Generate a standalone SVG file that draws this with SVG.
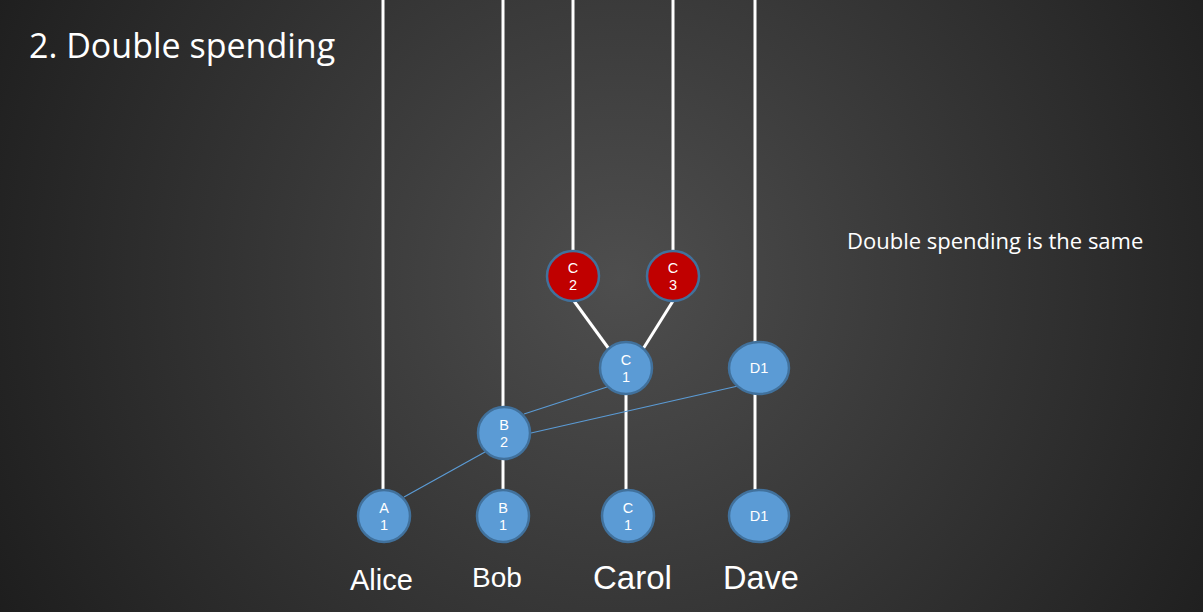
<svg xmlns="http://www.w3.org/2000/svg" width="1203" height="612" viewBox="0 0 1203 612">
<defs>
<radialGradient id="bg" cx="620" cy="280" r="800" gradientUnits="userSpaceOnUse">
<stop offset="0" stop-color="#4e4e4e"/>
<stop offset="0.45" stop-color="#353535"/>
<stop offset="1" stop-color="#171717"/>
</radialGradient>
</defs>
<style>
.life{stroke:#ffffff;stroke-width:3;fill:none}
.link{stroke:#5b9bd5;stroke-width:1.2;fill:none}
.blue{fill:#5b9bd5;stroke:#41719c;stroke-width:2.5}
.red{fill:#c00000;stroke:#41719c;stroke-width:2.5}
.nt{font-family:"Liberation Sans",Arial,sans-serif;font-size:14.5px;fill:#ffffff;text-anchor:middle}
.name{font-family:"Liberation Sans",Arial,sans-serif;fill:#ffffff}
.cal{font-family:"Open Sans","Noto Sans",sans-serif;fill:#ffffff}
</style>
<rect width="1203" height="612" fill="url(#bg)"/>
<text class="cal" x="29" y="58" font-size="34">2. Double spending</text>
<text class="cal" x="847" y="249" font-size="22">Double spending is the same</text>
<g id="connectors">
<line class="life" x1="383" y1="0" x2="383" y2="490"/>
<line class="life" x1="503" y1="0" x2="503" y2="408"/>
<line class="life" x1="503" y1="459" x2="503" y2="490"/>
<line class="life" x1="573" y1="0" x2="573" y2="250"/>
<line class="life" x1="673" y1="0" x2="673" y2="250"/>
<line class="life" x1="755" y1="0" x2="755" y2="342"/>
<line class="life" x1="755" y1="394" x2="755" y2="490"/>
<line class="life" x1="626" y1="394" x2="626" y2="490"/>
<line class="life" x1="574" y1="301" x2="609" y2="349"/>
<line class="life" x1="673" y1="301" x2="643" y2="349"/>
<line class="link" x1="524" y1="414" x2="607" y2="387"/>
<line class="link" x1="531" y1="433" x2="738" y2="386"/>
<line class="link" x1="404" y1="497" x2="485" y2="452"/>
</g>
<g id="C2"><ellipse class="red" cx="573" cy="276" rx="26" ry="25"/><text class="nt" x="573" y="273">C</text><text class="nt" x="573" y="290">2</text></g>
<g id="C3"><ellipse class="red" cx="673" cy="276" rx="26" ry="25"/><text class="nt" x="673" y="273">C</text><text class="nt" x="673" y="290">3</text></g>
<g id="C1top"><ellipse class="blue" cx="626" cy="368" rx="26" ry="26"/><text class="nt" x="626" y="365">C</text><text class="nt" x="626" y="382">1</text></g>
<g id="D1top"><ellipse class="blue" cx="759" cy="368" rx="30" ry="26"/><text class="nt" x="759" y="373">D1</text></g>
<g id="B2"><ellipse class="blue" cx="504" cy="433" rx="26" ry="26"/><text class="nt" x="504" y="430">B</text><text class="nt" x="504" y="447">2</text></g>
<g id="A1"><ellipse class="blue" cx="384" cy="516" rx="26" ry="26"/><text class="nt" x="384" y="513">A</text><text class="nt" x="384" y="530">1</text></g>
<g id="B1"><ellipse class="blue" cx="503" cy="516" rx="26" ry="26"/><text class="nt" x="503" y="513">B</text><text class="nt" x="503" y="530">1</text></g>
<g id="C1"><ellipse class="blue" cx="628" cy="516" rx="26" ry="26"/><text class="nt" x="628" y="513">C</text><text class="nt" x="628" y="530">1</text></g>
<g id="D1"><ellipse class="blue" cx="759" cy="516" rx="30" ry="26"/><text class="nt" x="759" y="521">D1</text></g>
<g id="labels">
<text class="name" x="350" y="590" font-size="29">Alice</text>
<text class="name" x="472" y="587" font-size="28">Bob</text>
<text class="name" x="593" y="589" font-size="33">Carol</text>
<text class="name" x="723" y="589" font-size="32.5">Dave</text>
</g>
</svg>
